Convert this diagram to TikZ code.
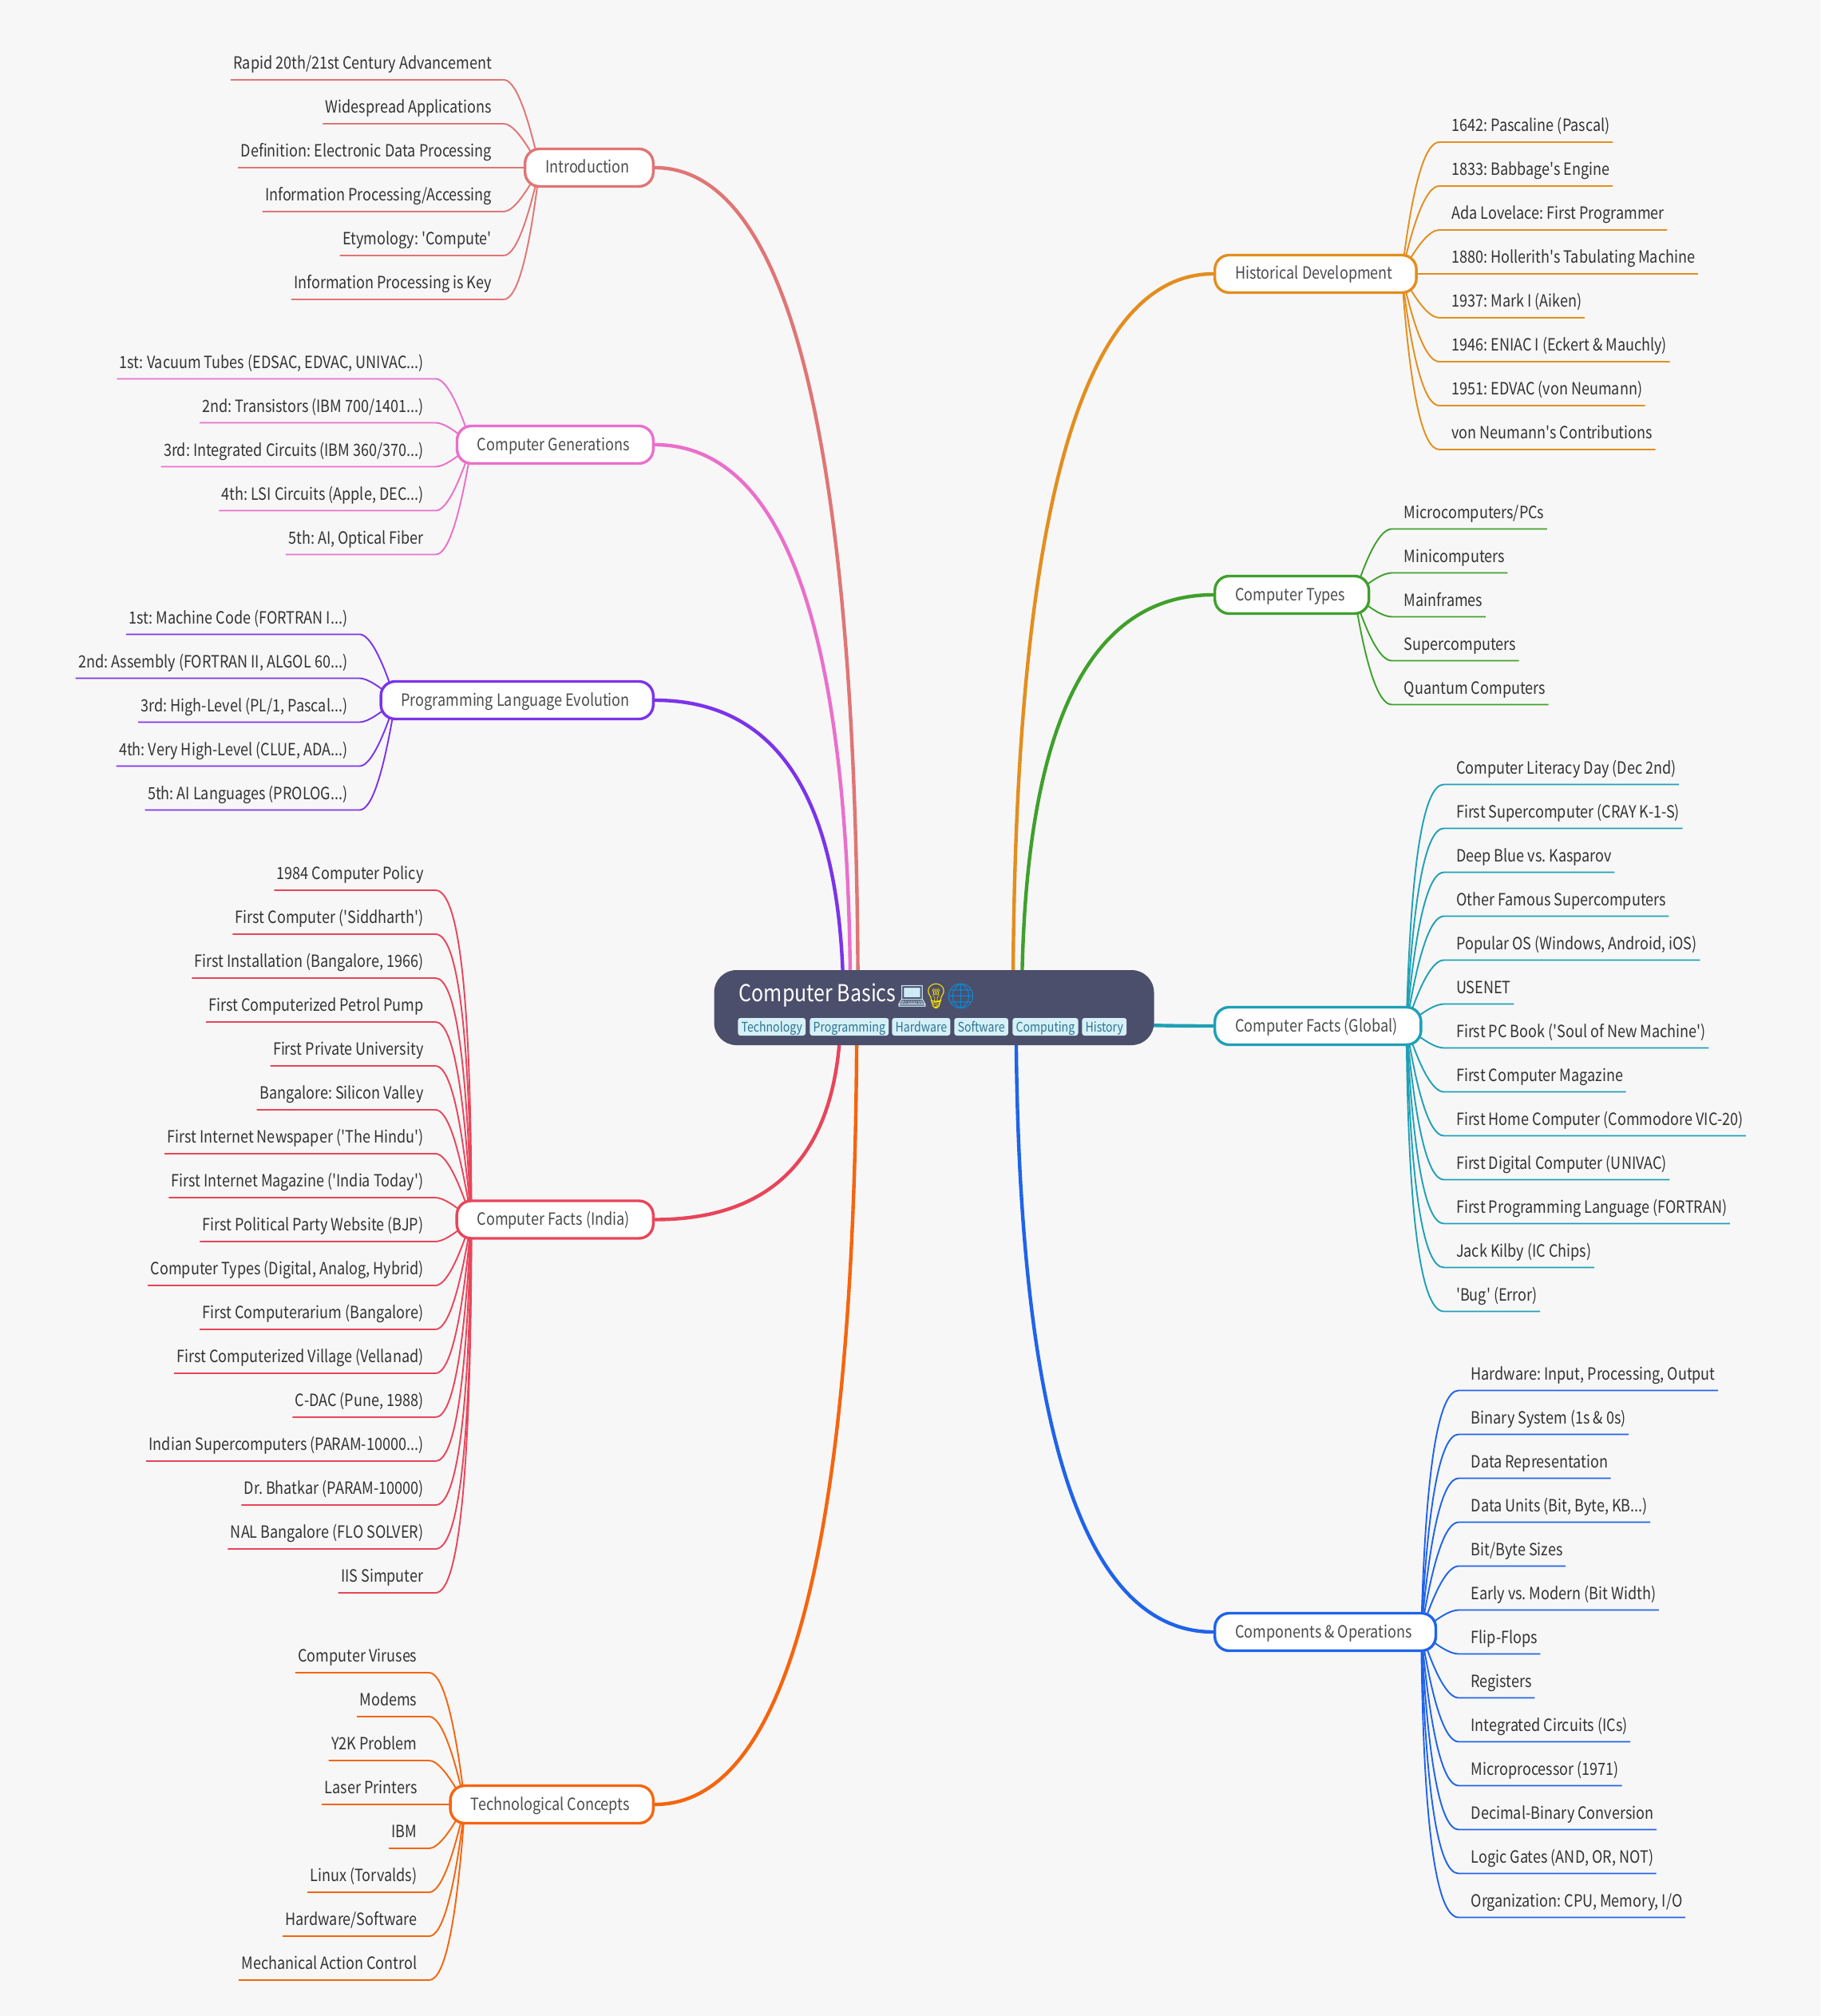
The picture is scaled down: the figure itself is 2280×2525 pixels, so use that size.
\documentclass[tikz,border=0pt]{standalone}
\usepackage{fontspec}
\setmainfont{Noto Sans CJK SC}[Ligatures=TeXOff,FakeStretch=0.855]
\newfontfamily\emojifont{Noto Emoji}
\usetikzlibrary{calc,backgrounds}
\pgfdeclarelayer{paper}
\pgfdeclarelayer{links}
\pgfsetlayers{paper,links,main}
\definecolor{intropink}{HTML}{E07575}
\definecolor{genpink}{HTML}{EA6FCB}
\definecolor{langpurple}{HTML}{7C33EA}
\definecolor{indiared}{HTML}{E8455A}
\definecolor{techorange}{HTML}{F5650F}
\definecolor{histamber}{HTML}{E38E1E}
\definecolor{typegreen}{HTML}{3FA02B}
\definecolor{globalteal}{HTML}{1FA0B5}
\definecolor{compblue}{HTML}{1F63EA}
\definecolor{rootslate}{HTML}{4C4F6B}
\definecolor{tagblue}{HTML}{D6F0F8}
\definecolor{taginkblue}{HTML}{2E7490}
\definecolor{paperwhite}{HTML}{F7F7F7}
\newcommand{\etcdots}{.{}.{}.}
% one child per list entry, underlined, joined to its parent
% args: parent, colour, y of first underline, y of parent, entries
\newcommand{\leavesleft}[5]{%
  \foreach \txt [count=\i from 0] in {#5} {
    \pgfmathsetmacro\leafy{#3+55*\i}
    \pgfmathsetmacro\bend{max(33.7-.085*abs(\leafy-#4),0)}
    \coordinate (leafrow) at (0,\leafy);
    \node[leaf,anchor=south east] (#1\i) at ($(#1.west |- leafrow)+(-36.5,0)$) {\txt};
    \begin{pgfonlayer}{links}
      \coordinate (start) at ($(#1.west)+(20,0)$);
      \coordinate (turn) at ($(#1.west |- leafrow)+(20-\bend,0)$);
      \coordinate (elbow) at ($(#1\i.south east)+(11.5,0)$);
      \draw[leafline,#2] (#1\i.south west) -- (#1\i.south east) -- (elbow)
        .. controls ($(elbow)!2/3!(turn)$) and ($(start)!2/3!(turn)$) .. (start);
    \end{pgfonlayer}
  }}
\newcommand{\leavesright}[5]{%
  \foreach \txt [count=\i from 0] in {#5} {
    \pgfmathsetmacro\leafy{#3+55*\i}
    \pgfmathsetmacro\bend{max(33.7-.085*abs(\leafy-#4),0)}
    \coordinate (leafrow) at (0,\leafy);
    \node[leaf,anchor=south west] (#1\i) at ($(#1.east |- leafrow)+(39,0)$) {\txt};
    \begin{pgfonlayer}{links}
      \coordinate (start) at ($(#1.east)+(-20,0)$);
      \coordinate (turn) at ($(#1.east |- leafrow)+(-20+\bend,0)$);
      \coordinate (elbow) at ($(#1\i.south west)+(-12,0)$);
      \draw[leafline,#2] (#1\i.south east) -- (#1\i.south west) -- (elbow)
        .. controls ($(elbow)!2/3!(turn)$) and ($(start)!2/3!(turn)$) .. (start);
    \end{pgfonlayer}
  }}
\newcommand{\mainlink}[3]{%
  \begin{pgfonlayer}{links}
    \coordinate (mainstart) at ($(root.center)+(#2,0)$);
    \draw[mainline,#3] (#1) .. controls ($(#1)!2/3!(mainstart |- #1)$) and ($(mainstart)!2/3!(mainstart |- #1)$) .. (mainstart);
  \end{pgfonlayer}}
\begin{document}
\frenchspacing
\begin{tikzpicture}[x=.5pt,y=-.5pt,
    leaf/.style={inner xsep=1.75pt,inner ysep=4.25pt,outer sep=0pt,text height=8pt,text depth=2.5pt,text=black!80,font=\fontsize{10.55}{13}\selectfont},
    topic/.style={draw=#1,line width=1.7pt,fill=white,rounded corners=9pt,minimum height=23.5pt,inner xsep=11.25pt,inner ysep=0pt,text height=9.5pt,text depth=2.5pt,text=black!70,font=\fontsize{10.55}{13}\selectfont,execute at begin node=\kern1.5pt,execute at end node=\kern3.5pt},
    leafline/.style={line width=.95pt,line join=round},
    mainline/.style={line width=2.2pt},
    emoji/.style={anchor=center,inner sep=0pt,font=\emojifont\fontsize{15.5}{16}\selectfont},
    tagbox/.style={fill=tagblue,rounded corners=1.5pt,anchor=west,inner xsep=2.1pt,inner ysep=0pt,minimum height=11pt,text height=8.8pt,text depth=2pt,text=taginkblue,font=\fontsize{8.25}{10}\selectfont}]
  \useasboundingbox (0,0) rectangle (2280,2525);
  \begin{pgfonlayer}{paper}
    \fill[paperwhite] (0,0) rectangle (2280,2525);
  \end{pgfonlayer}
  % centre
  \node[fill=rootslate,rounded corners=14pt,minimum width=275.5pt,minimum height=47pt,inner sep=0pt] (root) at (1170,1262) {};
  \node[anchor=base west,inner sep=0pt,text=white,font=\fontsize{14.6}{16}\selectfont] (title) at (925.5,1254) {Computer Basics};
  \node[emoji,text=black!15!cyan!20!white] (laptop) at (1142.5,1247.5) {💻};
  \node[emoji,text=yellow!85!orange] (bulb) at (1172.5,1247.5) {💡};
  \node[emoji,text=cyan!70!blue] (globe) at (1203.5,1247.5) {🌐};
  \node[tagbox] (tagtech) at (924,1286) {Technology};
  \node[tagbox] (tagprog) at (1014,1286) {Programming};
  \node[tagbox] (taghard) at (1117,1286) {Hardware};
  \node[tagbox] (tagsoft) at (1195,1286) {Software};
  \node[tagbox] (tagcomp) at (1268,1286) {Computing};
  \node[tagbox] (taghist) at (1355,1286) {History};
  % left side
  \node[topic=intropink,anchor=east] (intro) at (820,210) {Introduction};
  \node[topic=genpink,anchor=east] (gens) at (820,557) {Computer Generations};
  \node[topic=langpurple,anchor=east] (langs) at (820,877) {Programming Language Evolution};
  \node[topic=indiared,anchor=east] (india) at (820,1527.5) {Computer Facts (India)};
  \node[topic=techorange,anchor=east] (tech) at (820,2260) {Technological Concepts};
  \mainlink{intro.east}{-95.3}{intropink}
  \mainlink{gens.east}{-104.8}{genpink}
  \mainlink{langs.east}{-113.5}{langpurple}
  \mainlink{india.east}{-116.8}{indiared}
  \mainlink{tech.east}{-96.8}{techorange}
  \leavesleft{intro}{intropink}{100}{210}{Rapid 20th/21st Century Advancement,Widespread Applications,Definition: Electronic Data Processing,Information Processing/Accessing,Etymology: 'Compute',Information Processing is Key}
  \leavesleft{gens}{genpink}{474.5}{557}{{1st: Vacuum Tubes (EDSAC, EDVAC, UNIVAC\etcdots)},2nd: Transistors (IBM 700/1401\etcdots),3rd: Integrated Circuits (IBM 360/370\etcdots),{4th: LSI Circuits (Apple, DEC\etcdots)},{5th: AI, Optical Fiber}}
  \leavesleft{langs}{langpurple}{794.5}{877}{1st: Machine Code (FORTRAN I\etcdots),{2nd: Assembly (FORTRAN II, ALGOL 60\etcdots)},{3rd: High-Level (PL/1, Pascal\etcdots)},{4th: Very High-Level (CLUE, ADA\etcdots)},5th: AI Languages (PROLOG\etcdots)}
  \leavesleft{india}{indiared}{1115}{1527.5}{1984 Computer Policy,First Computer ('Siddharth'),{First Installation (Bangalore, 1966)},First Computerized Petrol Pump,First Private University,Bangalore: Silicon Valley,First Internet Newspaper ('The Hindu'),First Internet Magazine ('India Today'),First Political Party Website (BJP),{Computer Types (Digital, Analog, Hybrid)},First Computerarium (Bangalore),First Computerized Village (Vellanad),{C-DAC (Pune, 1988)},Indian Supercomputers (PARAM-10000\etcdots),Dr. Bhatkar (PARAM-10000),NAL Bangalore (FLO SOLVER),IIS Simputer}
  \leavesleft{tech}{techorange}{2095}{2260}{Computer Viruses,Modems,Y2K Problem,Laser Printers,IBM,Linux (Torvalds),Hardware/Software,Mechanical Action Control}
  % right side
  \node[topic=histamber,anchor=west] (hist) at (1520,343) {Historical Development};
  \node[topic=typegreen,anchor=west] (types) at (1520,745) {Computer Types};
  \node[topic=globalteal,anchor=west] (global) at (1520,1285) {Computer Facts (Global)};
  \node[topic=compblue,anchor=west] (parts) at (1520,2044) {Components \& Operations};
  \mainlink{hist.west}{98.9}{histamber}
  \mainlink{types.west}{109.9}{typegreen}
  \mainlink{global.west}{123.4}{globalteal}
  \mainlink{parts.west}{102.7}{compblue}
  \leavesright{hist}{histamber}{178}{343}{1642: Pascaline (Pascal),1833: Babbage's Engine,Ada Lovelace: First Programmer,1880: Hollerith's Tabulating Machine,1937: Mark I (Aiken),1946: ENIAC I (Eckert \& Mauchly),1951: EDVAC (von Neumann),von Neumann's Contributions}
  \leavesright{types}{typegreen}{662.5}{745}{Microcomputers/PCs,Minicomputers,Mainframes,Supercomputers,Quantum Computers}
  \leavesright{global}{globalteal}{982.5}{1285}{Computer Literacy Day (Dec 2nd),First Supercomputer (CRAY K-1-S),Deep Blue vs. Kasparov,Other Famous Supercomputers,{Popular OS (Windows, Android, iOS)},USENET,First PC Book ('Soul of New Machine'),First Computer Magazine,First Home Computer (Commodore VIC-20),First Digital Computer (UNIVAC),First Programming Language (FORTRAN),Jack Kilby (IC Chips),'Bug' (Error)}
  \leavesright{parts}{compblue}{1741.5}{2044}{{Hardware: Input, Processing, Output},Binary System (1s \& 0s),Data Representation,{Data Units (Bit, Byte, KB\etcdots)},Bit/Byte Sizes,Early vs. Modern (Bit Width),Flip-Flops,Registers,Integrated Circuits (ICs),Microprocessor (1971),Decimal-Binary Conversion,{Logic Gates (AND, OR, NOT)},{Organization: CPU, Memory, I/O}}
\end{tikzpicture}
\end{document}
